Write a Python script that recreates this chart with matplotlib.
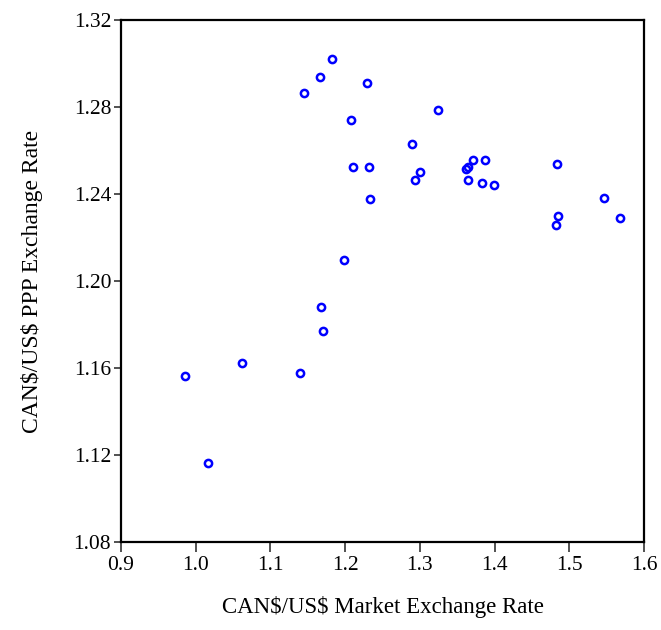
import matplotlib

matplotlib.use("Agg")
import matplotlib.pyplot as plt

# CAN$/US$ market vs PPP exchange rates
market = [1.1825, 1.1657, 1.1447, 1.2295, 1.2079, 1.3247, 1.2889, 1.2104,
          1.2315, 1.3000, 1.2933, 1.3708, 1.3876, 1.3622, 1.3646, 1.3642,
          1.3833, 1.3996, 1.4834, 1.2329, 1.5466, 1.4844, 1.4820, 1.5677,
          1.1979, 1.1682, 1.1701, 1.0624, 0.9853, 1.1400, 1.0164]
ppp = [1.3022, 1.2939, 1.2864, 1.2911, 1.2738, 1.2787, 1.2630, 1.2524,
       1.2524, 1.2500, 1.2466, 1.2555, 1.2558, 1.2515, 1.2523, 1.2466,
       1.2452, 1.2443, 1.2540, 1.2377, 1.2382, 1.2297, 1.2258, 1.2289,
       1.2097, 1.1881, 1.1768, 1.1622, 1.1565, 1.1575, 1.1162]
xticks = [0.9, 1.0, 1.1, 1.2, 1.3, 1.4, 1.5, 1.6]
yticks = [1.08, 1.12, 1.16, 1.20, 1.24, 1.28, 1.32]

plt.rcParams["font.family"] = ["Liberation Serif", "DejaVu Serif"]
plt.rcParams["text.parse_math"] = False

fig = plt.figure(figsize=(6.61, 6.30), dpi=100)
ax = fig.add_axes([121 / 661, 1 - 542 / 630, (644 - 121) / 661, (542 - 20) / 630])
ax.plot(market, ppp, "o", mfc="none", mec="#0000ff", ms=5.2, mew=1.8)

ax.set_xlim(0.9, 1.6)
ax.set_ylim(1.08, 1.32)
ax.set_xticks(xticks)
ax.set_xticklabels([f"{v:.1f}" for v in xticks])
ax.set_yticks(yticks)
ax.set_yticklabels([f"{v:.2f}" for v in yticks])
ax.tick_params(labelsize=15.5, width=1.2, color="#333333")
ax.tick_params(axis="x", length=7, pad=3)
ax.tick_params(axis="y", length=5, pad=2)
for s in ax.spines.values():
    s.set_linewidth(1.6)

ax.set_xlabel("CAN$/US$ Market Exchange Rate", fontsize=16.5, labelpad=15)
ax.set_ylabel("CAN$/US$ PPP Exchange Rate", fontsize=17, labelpad=22)

fig.savefig("out.png", dpi=100)
plt.close(fig)
